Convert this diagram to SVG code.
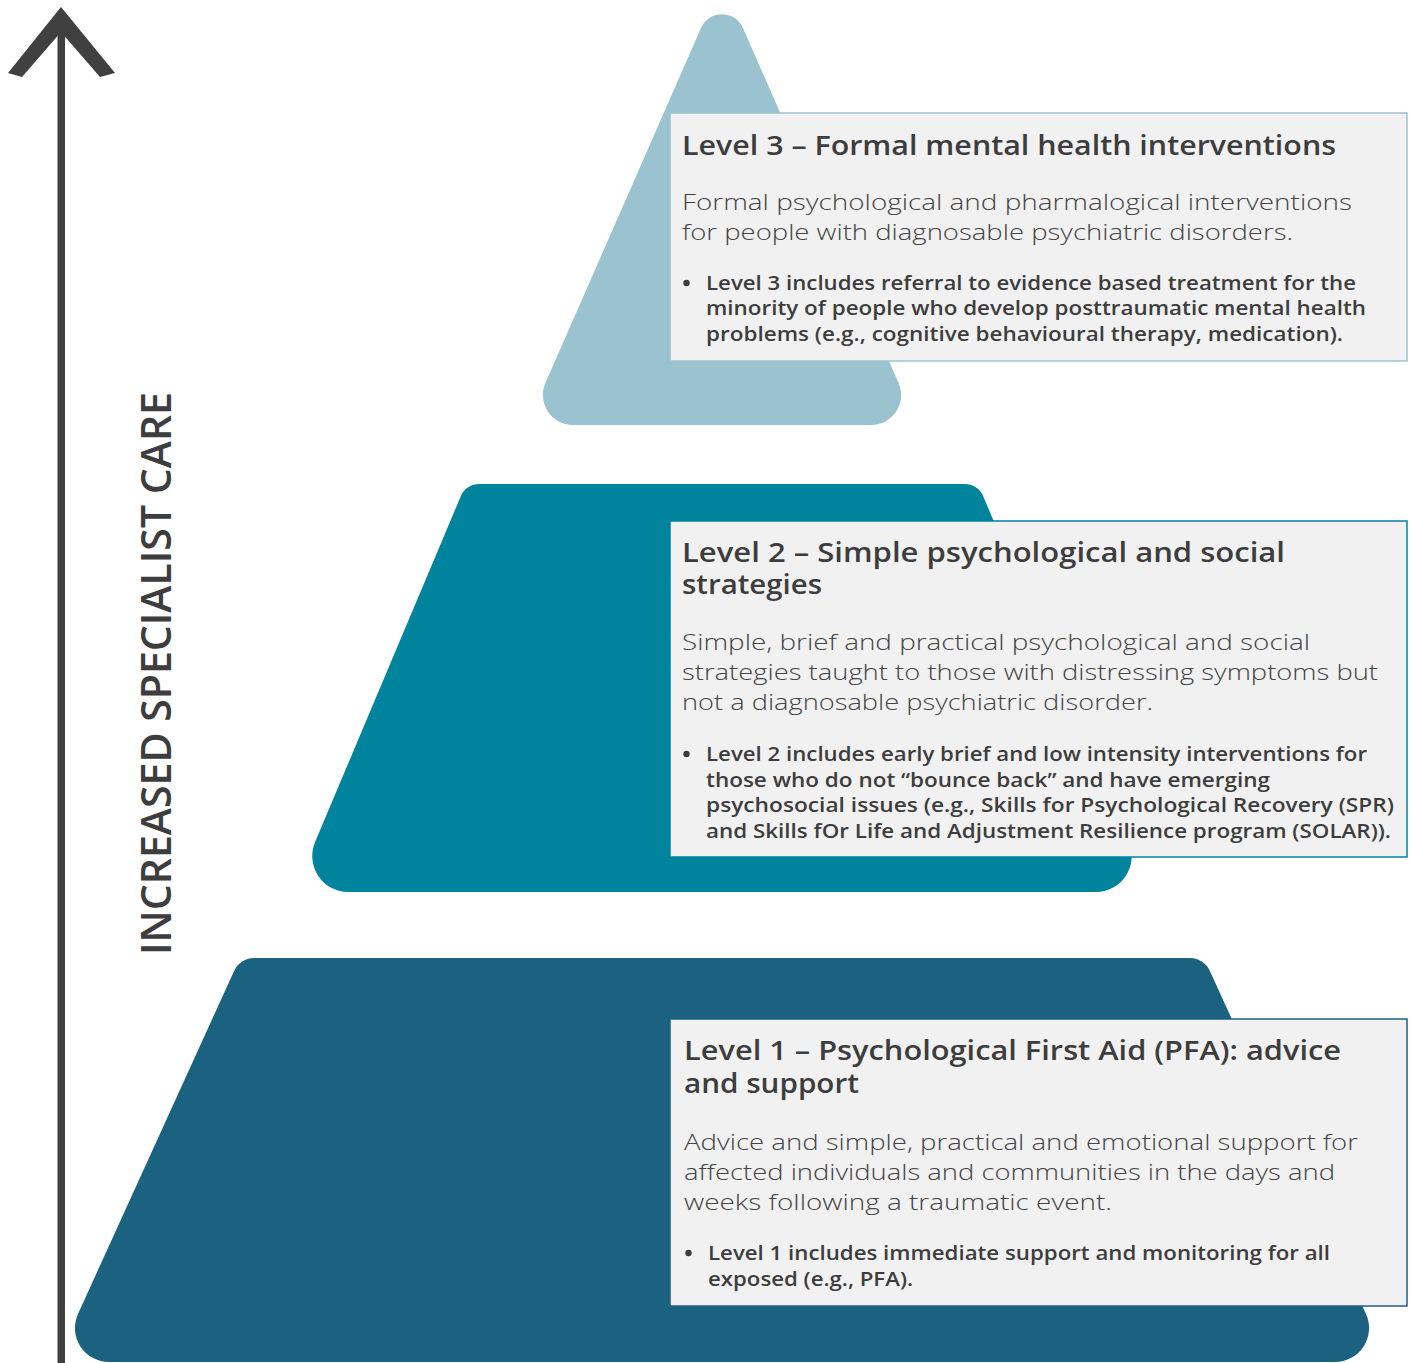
<svg xmlns="http://www.w3.org/2000/svg" width="1412" height="1363" viewBox="0 0 1412 1363">
  <style>
    .t  { font-family: "Open Sans", Lato, "Liberation Sans", sans-serif; fill: #3d3d3d; }
    .ti { font-size: 27px; font-weight: 600; }
    .bd { font-size: 22.5px; font-weight: 300; fill: #444444; }
    .bl { font-size: 19.5px; font-weight: 600; }
    .box { fill: #f1f1f1; stroke-width: 1.5; }
    .dot { fill: #3d3d3d; }
  </style>

  <!-- vertical axis arrow -->
  <g id="axis">
    <rect x="57.5" y="25" width="7.5" height="1338" fill="#404040"/>
    <polygon points="61,7 115,73 100,77 61,32 22,77 8,73" fill="#404040"/>
    <text class="t" transform="translate(170.5,955) rotate(-90)" x="0" y="0" font-size="41" font-weight="600" fill="#404040" textLength="563" lengthAdjust="spacingAndGlyphs">INCREASED SPECIALIST CARE</text>
  </g>

  <!-- level 1: base trapezoid -->
  <g id="level1">
    <path d="M254.2,958 L1189.8,958 A22,22 0 0 1 1209.9,970.9 L1366,1313.9 A34,34 0 0 1 1335,1362 L109,1362 A34,34 0 0 1 78,1313.9 L234.1,970.9 A22,22 0 0 1 254.2,958 Z" fill="#1b6281"/>
    <rect class="box" x="670" y="1019" width="737" height="287" stroke="#1b6281"/>
    <text class="t ti"><tspan x="684" y="1060" textLength="657" lengthAdjust="spacingAndGlyphs">Level 1 – Psychological First Aid (PFA): advice</tspan><tspan x="684" y="1093" textLength="175" lengthAdjust="spacingAndGlyphs">and support</tspan></text>
    <text class="t bd" x="684" y="1150" textLength="674" lengthAdjust="spacingAndGlyphs">Advice and simple, practical and emotional support for</text>
    <text class="t bd" x="684" y="1180" textLength="651" lengthAdjust="spacingAndGlyphs">affected individuals and communities in the days and</text>
    <text class="t bd" x="684" y="1210" textLength="428" lengthAdjust="spacingAndGlyphs">weeks following a traumatic event.</text>
    <circle class="dot" cx="688.5" cy="1253" r="3.2"/>
    <text class="t bl" x="708" y="1260" textLength="622" lengthAdjust="spacingAndGlyphs">Level 1 includes immediate support and monitoring for all</text>
    <text class="t bl" x="708" y="1286" textLength="205" lengthAdjust="spacingAndGlyphs">exposed (e.g., PFA).</text>
  </g>

  <!-- level 2: middle trapezoid -->
  <g id="level2">
    <path d="M479.3,484 L964.7,484 A20,20 0 0 1 983.2,496.2 L1128.9,842 A36,36 0 0 1 1095.7,892 L348.3,892 A36,36 0 0 1 315.1,842 L460.8,496.2 A20,20 0 0 1 479.3,484 Z" fill="#00839d"/>
    <rect class="box" x="670" y="521" width="737" height="336" stroke="#00839d"/>
    <text class="t ti"><tspan x="682" y="562" textLength="603" lengthAdjust="spacingAndGlyphs">Level 2 – Simple psychological and social</tspan><tspan x="682" y="594" textLength="140" lengthAdjust="spacingAndGlyphs">strategies</tspan></text>
    <text class="t bd" x="682" y="650" textLength="628" lengthAdjust="spacingAndGlyphs">Simple, brief and practical psychological and social</text>
    <text class="t bd" x="682" y="680" textLength="696" lengthAdjust="spacingAndGlyphs">strategies taught to those with distressing symptoms but</text>
    <text class="t bd" x="682" y="710" textLength="471" lengthAdjust="spacingAndGlyphs">not a diagnosable psychiatric disorder.</text>
    <circle class="dot" cx="686.5" cy="754" r="3.2"/>
    <text class="t bl" x="706" y="761" textLength="661" lengthAdjust="spacingAndGlyphs">Level 2 includes early brief and low intensity interventions for</text>
    <text class="t bl" x="706" y="787" textLength="564" lengthAdjust="spacingAndGlyphs">those who do not “bounce back” and have emerging</text>
    <text class="t bl" x="706" y="812" textLength="688" lengthAdjust="spacingAndGlyphs">psychosocial issues (e.g., Skills for Psychological Recovery (SPR)</text>
    <text class="t bl" x="706" y="838" textLength="685" lengthAdjust="spacingAndGlyphs">and Skills fOr Life and Adjustment Resilience program (SOLAR)).</text>
  </g>

  <!-- level 3: top triangle -->
  <g id="level3">
    <path d="M700.9,28.2 L545.4,383 A30,30 0 0 0 572.9,425 L871.1,425 A30,30 0 0 0 898.6,383 L743.1,28.2 A23,23 0 0 0 700.9,28.2 Z" fill="#9ac3cf"/>
    <rect class="box" x="670" y="113" width="737" height="248" stroke="#9ac3cf"/>
    <text class="t ti" x="682" y="155" textLength="654" lengthAdjust="spacingAndGlyphs">Level 3 – Formal mental health interventions</text>
    <text class="t bd" x="682" y="210" textLength="670" lengthAdjust="spacingAndGlyphs">Formal psychological and pharmalogical interventions</text>
    <text class="t bd" x="682" y="240" textLength="611" lengthAdjust="spacingAndGlyphs">for people with diagnosable psychiatric disorders.</text>
    <circle class="dot" cx="686.5" cy="283" r="3.2"/>
    <text class="t bl" x="706" y="290" textLength="650" lengthAdjust="spacingAndGlyphs">Level 3 includes referral to evidence based treatment for the</text>
    <text class="t bl" x="706" y="315" textLength="660" lengthAdjust="spacingAndGlyphs">minority of people who develop posttraumatic mental health</text>
    <text class="t bl" x="706" y="341" textLength="637" lengthAdjust="spacingAndGlyphs">problems (e.g., cognitive behavioural therapy, medication).</text>
  </g>
</svg>
